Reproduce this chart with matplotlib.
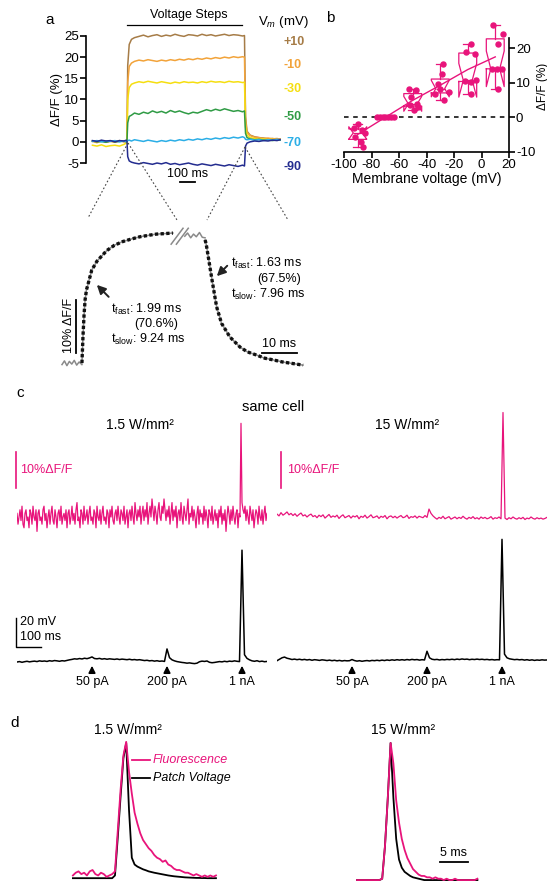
import numpy as np
import matplotlib
matplotlib.use('Agg')
import matplotlib.pyplot as plt
import matplotlib.transforms as mtransforms
from matplotlib.lines import Line2D

plt.rcParams['font.family'] = ['Liberation Sans', 'DejaVu Sans']
plt.rcParams['mathtext.fontset'] = 'custom'
plt.rcParams['mathtext.rm'] = 'Liberation Sans'
plt.rcParams['mathtext.it'] = 'Liberation Sans:italic'
plt.rcParams['axes.unicode_minus'] = False

MAG = '#E8147B'

# ---------------- data: panel a (voltage steps) ----------------
t_a = [-230, -200, -170, -140, -110, -80, -50, -20, -5,
       0, 5, 15, 30, 50, 80, 110, 140, 170, 200,
       230, 260, 290, 320, 350, 380, 410, 440, 470, 500,
       530, 560, 590, 620, 650, 680, 710, 740, 770, 783,
       790, 800, 820, 850, 880, 910, 940, 970, 1000, 1020]
a_p10 = [0.2, 0.0, 0.3, -0.1, 0.2, 0.1, 0.3, 0.0, 0.2,
         0.2, 18.0, 23.0, 24.2, 24.6, 24.9, 25.2, 24.8, 25.1, 25.3,
         24.9, 25.2, 25.0, 25.4, 25.1, 24.9, 25.3, 25.2, 25.0, 25.4,
         25.1, 25.3, 25.0, 25.2, 25.4, 25.1, 25.3, 25.2, 25.0, 25.1,
         6.0, 2.5, 1.6, 1.2, 1.0, 0.9, 0.7, 0.8, 0.6, 0.7]
a_m10 = [0.1, -0.2, 0.2, 0.0, 0.1, -0.1, 0.2, 0.1, 0.0,
         0.1, 14.0, 17.8, 18.6, 19.0, 19.3, 19.1, 19.4, 19.2, 19.0,
         19.3, 19.1, 19.4, 19.2, 19.5, 19.3, 19.6, 19.4, 19.7, 19.5,
         19.8, 19.6, 19.9, 19.7, 20.0, 19.8, 20.1, 19.9, 20.1, 20.0,
         5.0, 2.2, 1.5, 1.1, 1.0, 0.8, 0.9, 0.7, 0.8, 0.6]
a_m30 = [-0.8, -1.0, -0.7, -1.1, -0.9, -0.8, -1.0, -0.6, -0.3,
         0.0, 10.0, 12.8, 13.6, 13.9, 14.2, 14.0, 14.3, 14.1, 13.9,
         14.2, 14.0, 13.8, 14.1, 13.9, 14.2, 14.0, 14.1, 13.9, 14.2,
         14.0, 14.3, 14.1, 14.2, 14.0, 14.3, 14.1, 14.2, 14.0, 14.1,
         3.5, 1.6, 1.0, 0.8, 0.6, 0.7, 0.5, 0.6, 0.4, 0.5]
a_m50 = [0.2, 0.0, 0.1, -0.1, 0.2, 0.0, 0.1, 0.2, 0.0,
         0.1, 4.5, 6.0, 6.3, 6.8, 6.5, 7.0, 6.7, 7.3, 6.9,
         7.2, 6.8, 7.4, 7.0, 7.3, 6.9, 6.6, 7.0, 6.8, 7.2,
         7.6, 7.3, 7.7, 7.4, 7.8, 7.5, 7.2, 7.4, 7.1, 7.3,
         2.0, 1.0, 0.7, 0.5, 0.6, 0.4, 0.5, 0.3, 0.5, 0.4]
a_m70 = [0.1, 0.3, 0.0, 0.2, 0.1, 0.3, 0.0, 0.2, 0.1,
         0.2, 0.3, 0.4, 0.2, 0.5, 0.3, 0.1, 0.4, 0.2, 0.0,
         0.3, 0.1, 0.4, 0.2, 0.5, 0.3, 0.6, 0.4, 0.7, 0.5,
         0.8, 0.6, 0.9, 0.7, 1.0, 0.8, 1.1, 0.9, 1.2, 1.0,
         0.6, 0.5, 0.6, 0.4, 0.5, 0.3, 0.5, 0.4, 0.6, 0.5]
a_m90 = [0.3, 0.1, 0.4, 0.2, 0.3, 0.0, 0.3, 0.2, 0.4,
         0.2, -3.5, -4.5, -4.8, -5.0, -5.2, -4.9, -5.1, -5.3, -5.0,
         -5.2, -4.9, -5.3, -5.1, -5.4, -5.2, -5.0, -5.3, -5.5, -5.2,
         -5.4, -5.6, -5.3, -5.5, -5.7, -5.4, -5.6, -5.8, -5.5, -5.7,
         -1.0, -0.3, 0.0, 0.2, 0.1, 0.3, 0.2, 0.4, 0.3, 0.5]
a_traces = [a_p10, a_m10, a_m30, a_m50, a_m70, a_m90]
a_labels = ['+10', '-10', '-30', '-50', '-70', '-90']
a_colors = ['#A67C47', '#F2A33A', '#F5DE10', '#2F9B45', '#2BAEE6', '#232C8F']
a_yticks = [-5, 0, 5, 10, 15, 20, 25]

# zoomed kinetics trace (ms, %dF/F)
z_pre_t = [0, 0.7, 1.4, 2.1, 2.8, 3.5, 4.2, 4.9, 5.7]
z_pre_v = [-0.3, 0.4, -0.5, 0.3, -0.2, 0.5, -0.4, 0.2, -0.3]
z_rise_t = [5.7, 6.0, 6.3, 6.6, 7.0, 7.5, 8.5, 10, 12.8, 15, 17.4, 20, 22.3, 25, 27, 29.5, 31.7]
z_rise_v = [0, 5, 9, 11.9, 13.8, 15.0, 17.5, 19.2, 21.2, 22.2, 22.9, 23.4, 23.8, 24.1, 24.3, 24.4, 24.5]
z_mid_t = [35.1, 35.9, 36.8, 37.6, 38.4, 39.3, 40.1, 40.9]
z_mid_v = [23.9, 24.5, 23.6, 24.3, 23.8, 24.6, 23.7, 23.6]
z_fall_t = [40.9, 41.2, 41.8, 42.8, 44.2, 45.6, 48, 50.9, 53, 55.6, 58, 60.3, 63, 66, 68.9]
z_fall_v = [23.2, 22.5, 20.1, 16.0, 10.6, 7.5, 4.9, 3.0, 2.1, 1.5, 0.9, 0.6, 0.2, -0.1, -0.4]

# ---------------- data: panel b ----------------
b_volts = [-90, -70, -50, -30, -10, 10]
b_x = [[-93, -90, -87, -85, -92, -88, -86],
       [-76, -74, -72, -70, -68, -66, -64],
       [-53, -48, -51, -52, -47, -49, -46],
       [-28, -29, -30, -34, -24, -27, -32],
       [-8, -11, -5, -8, -4, -12, -8],
       [8.6, 15.4, 12.2, 7.4, 11, 15, 12]]
b_y = [[-3.0, -2.0, -3.7, -4.5, -5.7, -7.0, -8.6],
       [0, 0, 0, 0, 0, 0, 0],
       [8.3, 7.8, 5.9, 3.5, 3.9, 2.0, 3.0],
       [15.5, 12.6, 8.3, 6.8, 7.3, 4.9, 9.5],
       [21.2, 18.8, 18.3, 10.2, 10.7, 10.5, 6.8],
       [26.5, 24.1, 21.2, 14.0, 14.0, 14.0, 8.3]]
b_xticks = [-100, -80, -60, -40, -20, 0, 20]
b_yticks = [-10, 0, 10, 20]

# ---------------- data: panel c ----------------
c_fl_low = [1, -2, 0, 2, -1, 3, -2, -3, 1, 2, -1, 0, -3, 2, 1, -2, 3, 0, -1, 2, -4, 1, 2, -1, 0,
            -2, 2, 3, -1, 1, -3, 0, 2, -2, 1, 3, -1, -2, 2, 0, -3, 1, 2, -1, 3, -2, 0, 1, -1, 2,
            -3, 1, 2, -2, 0, 3, -1, 1, -2, 2, 4, -1, 0, -3, 2, 1, -2, 3, -1, 0, 2, -2, 1, 3, -1,
            0, -2, 2, 1, -3, 3, 0, -1, 2, -2, 1, 3, -1, 0, -2, 2, 1, -3, 2, 0, 3, -1, -2, 1, 2,
            -1, 3, 0, -2, 2, 1, -1, 3, -2, 0, 2, -3, 1, 2, -1, 3, 0, -2, 4, 1, -1, 2, 0, 3, -2,
            1, 3, -1, 2, 0, 4, -2, 1, 3, 0, 5, 2, -1, 3, 1, -2, 2, 4, 0, -1, 3, 1, 5, 2, -1,
            2, 0, 3, -2, 1, 4, -1, 2, 0, 3, -3, 1, 2, -1, 4, 0, -2, 3, 1, -1, 2, 5, -2, 1, 0,
            3, -1, 2, 0, -3, 1, 3, -2, 2, 0, 1, -2, 3, -1, 2, 0, -3, 2, 1, -1, 3, -2, 0, 2, -1,
            1, -3, 2, 0, 3, -2, 1, -1, 2, -4, 0, 3, 1, -2, 2, -1, 3, 0, -2, 1, 2, -3, 1, 0, 26,
            4, 2, 1, 3, -1, 2, 0, -2, 3, 1, -1, 2, -3, 0, 2, 1, -2, 3, 0, -1, 2, -2, 1, 3, -1,
            1]
c_fl_high = [0.8, 0.3, 1.2, 0.5, 0.9, 1.4, 0.6, 1.0, 0.4, 0.9, 0.2, 0.7, 1.1, 0.3, 0.6, 0.0, 0.5, 0.8, 0.1, 0.4,
             -0.2, 0.5, 0.1, 0.6, -0.3, 0.2, 0.7, -0.1, 0.3, 0.0, 0.5, -0.4, 0.2, 0.6, -0.2, 0.1, 0.4, -0.3, 0.3, 0.0,
             0.4, -0.5, 0.2, -0.1, 0.5, -0.3, 0.1, 0.6, -0.2, 0.0, 0.3, -0.4, 0.2, -0.1, 0.4, -0.5, 0.1, 0.3, -0.2, 0.2,
             -0.3, 0.1, 0.4, -0.2, 0.0, 0.5, -0.4, 0.1, -0.1, 0.3, -0.3, 0.2, 0.0, -0.2, 0.4, -0.1, 2.2, 1.0, 0.3, -0.2,
             -0.6, -0.1, -0.4, 0.2, -0.5, -0.2, 0.1, -0.6, -0.3, 0.0, -0.5, -0.1, -0.4, 0.2, -0.3, -0.6, -0.1, -0.4, 0.1, -0.5,
             -0.2, -0.6, 0.0, -0.4, -0.1, -0.5, -0.3, 0.1, -0.6, -0.2, -0.4, 0.0, -0.5, 29.0, -0.3, -0.7, -0.2, -0.5, 0.0, -0.4,
             -0.6, -0.2, -0.5, -0.1, -0.7, -0.3, -0.5, 0.0, -0.4, -0.6, -0.2, -0.5, -0.3, -0.6, -0.4, -0.1]
c_v_low = [0, 0.3, -0.2, 0.2, 0.5, 0.1, 0.4, 0.6, 0.3, 0.8,
           0.5, 0.7, 0.4, 0.9, 0.6, 1.0, 0.8, 0.5, 0.9, 0.7,
           1.1, 1.5, 1.8, 2.2, 2.0, 2.4, 2.1, 2.6, 2.3, 2.8,
           3.5, 2.4, 2.2, 2.5, 2.0, 2.3, 1.9, 2.2, 2.0, 1.8,
           2.1, 1.7, 2.0, 1.8, 1.6, 1.9, 1.5, 1.7, 1.4, 1.6,
           1.3, 1.0, 1.2, 0.8, 1.0, 0.6, 0.9, 0.5, 0.7, 0.4,
           9.0, 3.0, 1.5, 0.8, 0.3, 0.0, -0.3, -0.5, -0.8, -0.6,
           -0.9, -1.1, -0.8, 0.2, 0.6, 0.4, 0.7, -0.2, -0.5, -0.3,
           0.0, 0.3, 0.1, 0.5, 0.2, 0.6, 0.4, 0.8, 0.5, 0.3,
           77.0, 5.0, 2.5, 1.5, 0.8, 0.5, 0.9, 0.3, 0.6, 0.2,
           0.4]
c_v_high = [-0.5, 0.5, 1.5, 2.0, 1.2, 0.8, 0.3, 0.6, 0.2, 0.5,
            0.1, 0.4, 0.0, 0.3, -0.2, 0.2, 0.0, -0.3, 0.1, -0.1,
            -0.4, -0.1, -0.5, -0.2, -0.6, -0.3, -0.7, -0.4, -0.6, -0.5,
            0.3, -0.4, -0.8, -0.5, -0.9, -0.6, -0.4, -0.7, -0.3, -0.5,
            -0.2, -0.5, -0.1, -0.4, 0.0, -0.3, 0.1, -0.2, 0.2, -0.1,
            0.2, -0.1, 0.3, 0.0, 0.4, 0.1, 0.3, -0.1, 0.2, 0.0,
            6.0, 1.5, 0.5, 0.2, 0.4, 0.0, 0.3, 0.1, 0.4, 0.2,
            0.5, 0.2, 0.6, 0.3, 0.7, 0.4, 0.6, 0.2, 0.5, 0.3,
            0.6, 0.3, 0.5, 0.2, 0.4, 0.1, 0.3, 0.0, 0.2, 0.1,
            83.0, 4.0, 1.5, 0.8, 0.5, 0.2, 0.4, 0.1, 0.3, -0.1,
            0.2, -0.2, 0.1, -0.3, 0.0, -0.2, 0.1, -0.1, 0.0]
c_stim_t = [300, 600, 900]
c_stim_labels = ['50 pA', '200 pA', '1 nA']

# ---------------- data: panel d (normalised) ----------------
d_fl_low = [0.02, 0.04, 0.05, 0.03, 0.04, 0.02, 0.05, 0.06, 0.03, 0.02,
            0.04, 0.03, 0.01, 0.02, 0.03, 0.05, 0.35, 0.65, 0.9, 1.0,
            0.78, 0.62, 0.48, 0.4, 0.33, 0.28, 0.25, 0.22, 0.2, 0.17,
            0.15, 0.14, 0.12, 0.13, 0.1, 0.09, 0.07, 0.06, 0.06, 0.05,
            0.04, 0.04, 0.03, 0.02, 0.03, 0.02, 0.01, 0.02, 0.01, 0.02,
            0.01, 0.02]
d_v_low = [0, 0, 0, 0, 0, 0, 0, 0, 0, 0,
           0, 0, 0, 0, 0, 0.02, 0.3, 0.6, 0.88, 0.99,
           0.5, 0.15, 0.1, 0.085, 0.075, 0.065, 0.058, 0.05, 0.045, 0.04,
           0.036, 0.032, 0.028, 0.024, 0.02, 0.017, 0.014, 0.012, 0.01, 0.008,
           0.006, 0.005, 0.004, 0.003, 0.002, 0.002, 0.001, 0.001, 0, 0,
           0, 0]
d_fl_high = [0, 0, 0, 0, 0, 0, 0, 0, 0, 0.01,
             0.25, 0.6, 1.0, 0.85, 0.58, 0.42, 0.3, 0.22, 0.16, 0.12,
             0.08, 0.06, 0.04, 0.03, 0.03, 0.02, 0.02, 0.01, 0.02, 0.01,
             0.01, 0.0, 0.01, 0.0, 0.0, 0.01, 0.0, 0.0, 0.0, 0.0,
             0.0, 0.0, 0.0, 0.01]
d_v_high = [0, 0, 0, 0, 0, 0, 0, 0, 0, 0.01,
            0.25, 0.6, 1.0, 0.6, 0.3, 0.15, 0.09, 0.06, 0.045, 0.03,
            0.02, 0.015, 0.01, 0.005, 0, 0, 0, 0, 0, 0,
            0, 0, 0, 0, 0, 0, 0, 0, 0, 0,
            0, 0, 0, 0]

W, H = 547, 886
fig = plt.figure(figsize=(W / 100, H / 100), dpi=100)


def box(x0, y0, x1, y1):
    return fig.add_axes([x0 / W, 1 - y1 / H, (x1 - x0) / W, (y1 - y0) / H])


def fy(Y):
    return 1 - Y / H


def fline(xs, ys, **kw):
    fig.add_artist(Line2D([x / W for x in xs], [fy(y) for y in ys],
                          transform=fig.transFigure, **kw))


# ---------------- panel a, steps ----------------
ax = box(86, 27.5, 285, 171.5)
for vals, col in zip(a_traces, a_colors):
    ax.plot(t_a, vals, color=col, lw=1.1)
ax.set_xlim(-273, 1053)
ax.set_ylim(-7, 27)
for s in ['top', 'right', 'bottom']:
    ax.spines[s].set_visible(False)
ax.spines['left'].set_bounds(-5, 25)
ax.spines['left'].set_linewidth(1.2)
ax.set_yticks(a_yticks)
ax.set_xticks([])
ax.tick_params(axis='y', direction='out', length=4, width=1.2, labelsize=9.5, pad=1)
ax.set_ylabel('ΔF/F (%)', fontsize=9.5, labelpad=1)
bl = mtransforms.blended_transform_factory(ax.transData, fig.transFigure)
ax.plot([0, 767], [fy(25), fy(25)], color='k', lw=0.9, transform=bl, clip_on=False)
ax.text(410, fy(15), 'Voltage Steps', transform=bl, ha='center', va='center', fontsize=9)
ax.plot([353, 453], [fy(182), fy(182)], color='k', lw=1.3, transform=bl, clip_on=False)
ax.text(403, fy(174), '100 ms', transform=bl, ha='center', va='center', fontsize=9)
fig.text(258 / W, fy(22), 'V$_m$ (mV)', ha='left', va='center', fontsize=9.5)
for lab, col, Y in zip(a_labels, a_colors, [42, 65, 89, 117, 143, 167]):
    fig.text(283 / W, fy(Y), lab, color=col, ha='left', va='center', fontsize=9,
             fontweight='bold')
fig.text(50 / W, fy(20), 'a', fontsize=11, ha='center', va='center')

# connector lines
for (x0, y0, x1, y1) in [(128, 143, 88, 218), (128, 143, 177, 220),
                         (245, 147, 207, 220), (245, 147, 288, 220)]:
    fline([x0, x1], [y0, y1], color='#444444', lw=0.8, ls=(0, (1.5, 2)))

# ---------------- panel a, kinetics ----------------
az = box(55, 215, 310, 375)
az.plot(z_pre_t, z_pre_v, color='#8a8a8a', lw=1.1)
az.plot(z_rise_t, z_rise_v, color='#8a8a8a', lw=1.1)
az.plot(z_mid_t, z_mid_v, color='#8a8a8a', lw=1.1)
az.plot(z_fall_t, z_fall_v, color='#8a8a8a', lw=1.1)
az.plot(z_rise_t, z_rise_v, color='#111111', lw=2.4, ls=(0, (1.0, 0.7)))
az.plot(z_fall_t, z_fall_v, color='#111111', lw=2.4, ls=(0, (1.0, 0.7)))
for dx in [0, 1.5]:
    az.plot([31.2 + dx, 34.6 + dx], [22.4, 25.4], color='#8a8a8a', lw=1.1)
az.set_xlim(-2, 70.9)
az.set_ylim(-2.26, 27.9)
az.axis('off')
az.plot([4, 4], [1.9, 11.9], color='k', lw=1.3)
az.text(2.0, 7.0, '10% ΔF/F', rotation=90, ha='center', va='center', fontsize=9)
az.plot([57.1, 67.1], [1.9, 1.9], color='k', lw=1.3)
az.text(62.1, 3.5, '10 ms', ha='center', va='center', fontsize=9)
arrow = dict(arrowstyle='-|>', color='#222222', lw=1.4, mutation_scale=13)
az.annotate('', xy=(9.4, 15.1), xytext=(13.9, 12.1), arrowprops=arrow)
az.annotate('', xy=(43.7, 16.0), xytext=(47.8, 18.7), arrowprops=arrow)
fs = 9
fig.text(111 / W, fy(309), r't$_{\rm fast}$: 1.99 ms', fontsize=fs, va='center')
fig.text(178 / W, fy(324), '(70.6%)', fontsize=fs, va='center', ha='right')
fig.text(111 / W, fy(339), r't$_{\rm slow}$: 9.24 ms', fontsize=fs, va='center')
fig.text(231 / W, fy(263), r't$_{\rm fast}$: 1.63 ms', fontsize=fs, va='center')
fig.text(301 / W, fy(279), '(67.5%)', fontsize=fs, va='center', ha='right')
fig.text(231 / W, fy(294), r't$_{\rm slow}$: 7.96 ms', fontsize=fs, va='center')

# ---------------- panel b ----------------
axb = box(344, 20.3, 509, 152)
axb.axhline(0, color='k', lw=1.1, ls=(0, (3, 3)))
bp = axb.boxplot(b_y, positions=b_volts, widths=13, notch=True, showfliers=False,
                 manage_ticks=False)
for key in ['boxes', 'whiskers', 'caps', 'medians']:
    for ln in bp[key]:
        ln.set_color(MAG)
        ln.set_linewidth(0.9)
axb.plot(b_volts, [np.mean(g) for g in b_y], color=MAG, lw=1.0)
for xs, ys in zip(b_x, b_y):
    axb.plot(xs, ys, 'o', color=MAG, ms=3.6, mec=MAG, clip_on=False)
axb.set_xlim(-100, 20)
axb.set_ylim(-10, 28)
axb.spines['top'].set_visible(False)
axb.spines['left'].set_visible(False)
axb.spines['right'].set_bounds(-10, 23)
axb.spines['right'].set_linewidth(1.2)
axb.spines['bottom'].set_linewidth(1.2)
axb.yaxis.tick_right()
axb.yaxis.set_label_position('right')
axb.set_xticks(b_xticks)
axb.set_yticks(b_yticks)
axb.tick_params(direction='out', length=4, width=1.2, labelsize=9.5, pad=1)
axb.set_xlabel('Membrane voltage (mV)', fontsize=10, labelpad=1)
axb.set_ylabel('ΔF/F (%)', fontsize=8.5, labelpad=1)
fig.text(330 / W, fy(18), 'b', fontsize=11, ha='center', va='center')

# ---------------- panel c ----------------
t_c_fl_low = np.arange(len(c_fl_low)) * 4
t_c_fl_high = np.arange(len(c_fl_high)) * 8
t_c_v_low = np.arange(len(c_v_low)) * 10
t_c_v_high = np.arange(len(c_v_high)) * 10

f1 = box(17, 410, 267, 535)
f1.plot(t_c_fl_low, c_fl_low, color=MAG, lw=0.9)
f1.set_xlim(0, 1000)
f1.set_ylim(-5, 29.7)
f1.axis('off')
f1.plot([-4, -4], [8, 18], color=MAG, lw=1.2, clip_on=False)
f1.text(12, 13, '10%ΔF/F', color=MAG, fontsize=9, va='center', ha='left')

f2 = box(277, 410, 547, 535)
f2.plot(t_c_fl_high, c_fl_high, color=MAG, lw=0.9)
f2.set_xlim(0, 1080)
f2.set_ylim(-5, 29.7)
f2.axis('off')
f2.plot([16, 16], [8, 18], color=MAG, lw=1.2, clip_on=False)
f2.text(40, 13, '10%ΔF/F', color=MAG, fontsize=9, va='center', ha='left')

v1 = box(17, 540, 267, 670)
v1.plot(t_c_v_low, c_v_low, color='k', lw=1.1)
v1.set_xlim(0, 1000)
v1.set_ylim(-5.5, 84)
v1.axis('off')
v1.plot([-4, -4, 96], [30.3, 10.3, 10.3], color='k', lw=1.0, clip_on=False)
v1.text(12, 27.5, '20 mV', fontsize=9, va='center', ha='left')
v1.text(12, 17.2, '100 ms', fontsize=9, va='center', ha='left')

v2 = box(277, 535, 547, 670)
v2.plot(t_c_v_high, c_v_high, color='k', lw=1.1)
v2.set_xlim(0, 1080)
v2.set_ylim(-6.9, 86)
v2.axis('off')

for axv in [v1, v2]:
    bt = mtransforms.blended_transform_factory(axv.transData, fig.transFigure)
    for t, lab in zip(c_stim_t, c_stim_labels):
        axv.annotate('', xy=(t, fy(663)), xycoords=bt, xytext=(t, fy(673)), textcoords=bt,
                     arrowprops=dict(arrowstyle='-|>', color='k', lw=1.2, mutation_scale=10))
        axv.text(t, fy(682), lab, transform=bt, ha='center', va='center', fontsize=9)

fig.text(20 / W, fy(393), 'c', fontsize=11, ha='center', va='center')
fig.text(273 / W, fy(407), 'same cell', fontsize=10.5, ha='center', va='center')
fig.text(140 / W, fy(425), '1.5 W/mm²', fontsize=10, ha='center', va='center')
fig.text(407 / W, fy(425), '15 W/mm²', fontsize=10, ha='center', va='center')

# ---------------- panel d ----------------
t_d_low = np.arange(len(d_fl_low)) * 0.5
t_d_high = np.arange(len(d_fl_high)) * 0.5

d1 = box(60, 735, 230, 885)
d1.plot(t_d_low, d_v_low, color='k', lw=1.3)
d1.plot(t_d_low, d_fl_low, color=MAG, lw=1.3)
d1.set_xlim(-2.3, 28)
d1.set_ylim(-0.05, 1.05)
d1.axis('off')

d2 = box(345, 735, 547, 885)
d2.plot(t_d_high, d_v_high, color='k', lw=1.3)
d2.plot(t_d_high, d_fl_high, color=MAG, lw=1.3)
d2.set_xlim((345 - 357) / 5.6, (547 - 357) / 5.6)
d2.set_ylim(-0.036, 1.058)
d2.axis('off')
d2.plot([14.8, 19.8], [0.13, 0.13], color='k', lw=1.3)
d2.text(17.3, 0.2, '5 ms', ha='center', va='center', fontsize=9)

fline([132, 150], [760, 760], color=MAG, lw=1.3)
fline([132, 150], [778, 778], color='k', lw=1.3)
fig.text(153 / W, fy(760), 'Fluorescence', color=MAG, style='italic', fontsize=9, va='center')
fig.text(153 / W, fy(778), 'Patch Voltage', color='k', style='italic', fontsize=9, va='center')
fig.text(15 / W, fy(723), 'd', fontsize=11, ha='center', va='center')
fig.text(128 / W, fy(730), '1.5 W/mm²', fontsize=10, ha='center', va='center')
fig.text(403 / W, fy(730), '15 W/mm²', fontsize=10, ha='center', va='center')

fig.savefig('out.png', dpi=100)
